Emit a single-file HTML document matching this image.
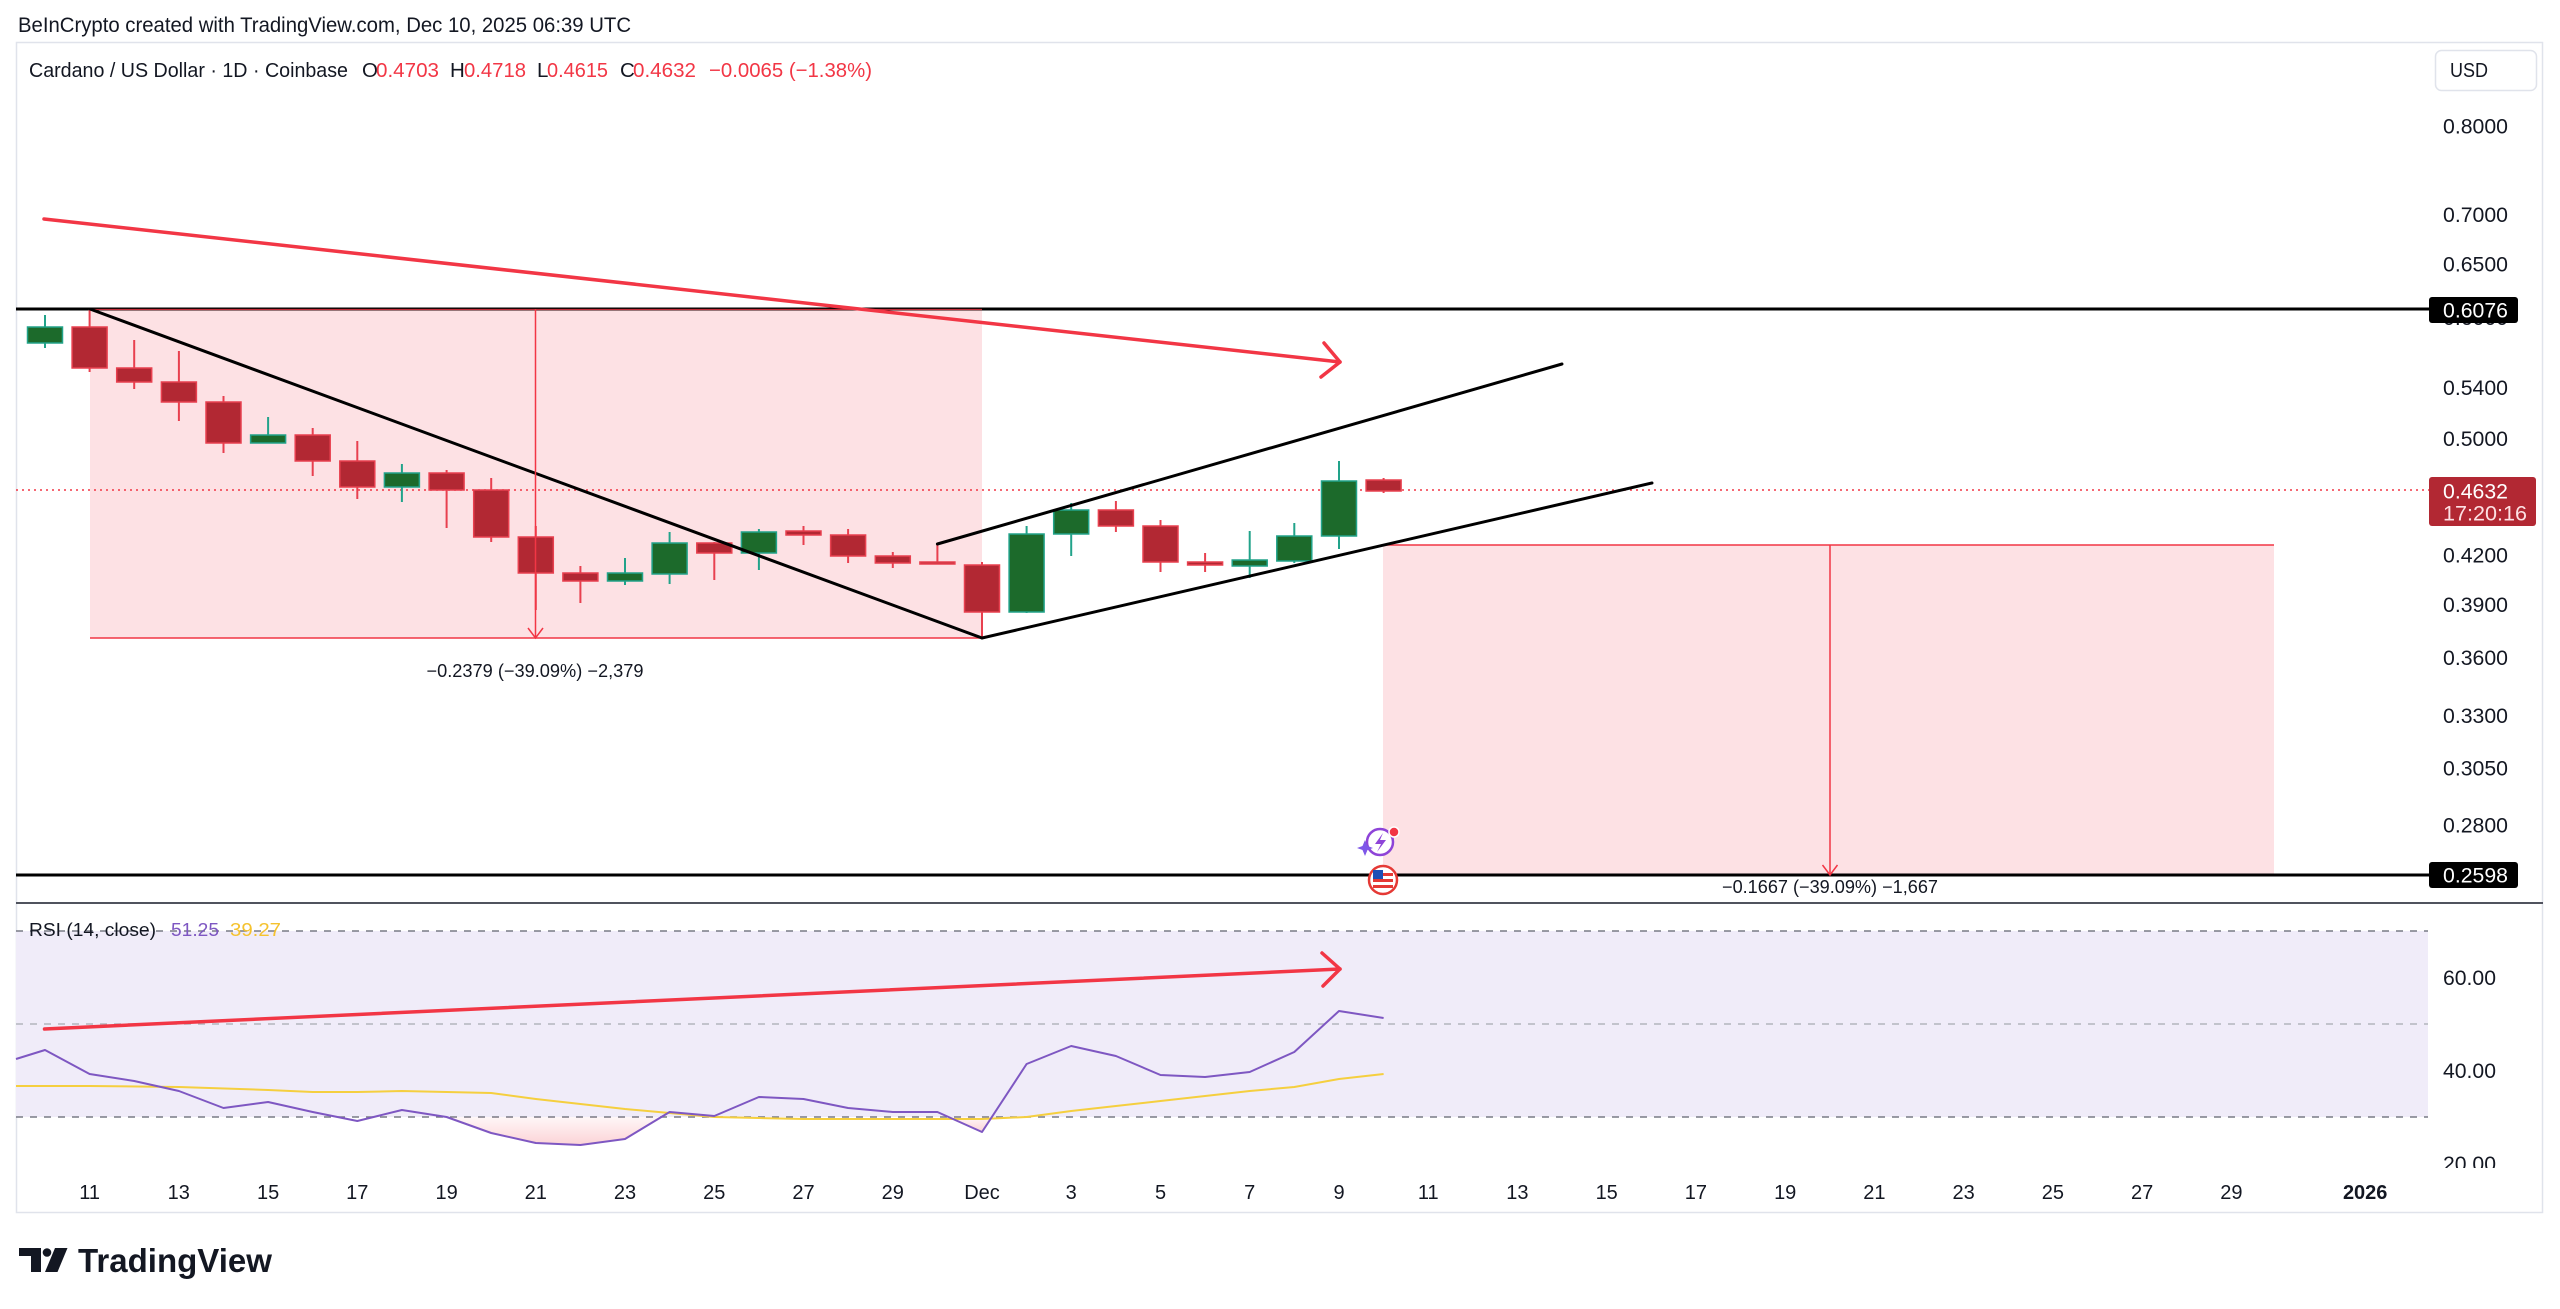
<!DOCTYPE html>
<html>
<head>
<meta charset="utf-8">
<style>
html,body{margin:0;padding:0;background:#ffffff;}
svg{display:block;}
text{font-family:"Liberation Sans", Arial, sans-serif;}
</style>
</head>
<body>
<svg xmlns="http://www.w3.org/2000/svg" width="2560" height="1309" viewBox="0 0 2560 1309">
<defs>
  <clipPath id="rsiclip"><rect x="0" y="905" width="2560" height="263"/></clipPath>
  <linearGradient id="pinkg" x1="0" y1="0" x2="0" y2="1">
    <stop offset="0" stop-color="#f23645" stop-opacity="0.04"/>
    <stop offset="1" stop-color="#f23645" stop-opacity="0.22"/>
  </linearGradient>
</defs>
<rect x="0" y="0" width="2560" height="1309" fill="#ffffff"/>

<!-- top caption -->
<text x="18" y="32" font-size="21" fill="#131722" textLength="613" lengthAdjust="spacingAndGlyphs">BeInCrypto created with TradingView.com, Dec 10, 2025 06:39 UTC</text>

<!-- panel border -->
<rect x="16.5" y="42.5" width="2526" height="1170" fill="none" stroke="#e0e3eb" stroke-width="1.5"/>

<!-- header -->
<g font-size="20.5">
  <text x="29" y="77" fill="#131722" textLength="319" lengthAdjust="spacingAndGlyphs">Cardano / US Dollar · 1D · Coinbase</text>
  <text x="362" y="77" fill="#131722">O</text>
  <text x="376" y="77" fill="#f23645" textLength="63" lengthAdjust="spacingAndGlyphs">0.4703</text>
  <text x="450" y="77" fill="#131722">H</text>
  <text x="464" y="77" fill="#f23645" textLength="62" lengthAdjust="spacingAndGlyphs">0.4718</text>
  <text x="537" y="77" fill="#131722">L</text>
  <text x="547" y="77" fill="#f23645" textLength="61" lengthAdjust="spacingAndGlyphs">0.4615</text>
  <text x="620" y="77" fill="#131722">C</text>
  <text x="633" y="77" fill="#f23645" textLength="63" lengthAdjust="spacingAndGlyphs">0.4632</text>
  <text x="709" y="77" fill="#f23645" textLength="163" lengthAdjust="spacingAndGlyphs">&#8722;0.0065 (&#8722;1.38%)</text>
</g>

<!-- USD box -->
<rect x="2435.5" y="50.5" width="101" height="40" rx="6" fill="#ffffff" stroke="#e0e3eb" stroke-width="1.5"/>
<text x="2450" y="77" font-size="20" fill="#131722" textLength="38" lengthAdjust="spacingAndGlyphs">USD</text>

<!-- pink ranges -->
<rect x="90" y="309" width="892" height="329" fill="#fde1e4"/>
<line x1="90" y1="309" x2="982" y2="309" stroke="#f23645" stroke-width="1.5"/>
<line x1="90" y1="638" x2="982" y2="638" stroke="#f23645" stroke-width="1.5"/>
<rect x="1383" y="545" width="891" height="330" fill="#fde1e4"/>
<line x1="1383" y1="545" x2="2274" y2="545" stroke="#f23645" stroke-width="1.5"/>

<!-- dotted current price line -->
<line x1="16" y1="490" x2="2429" y2="490" stroke="#f23645" stroke-width="1.5" stroke-dasharray="2 4"/>

<!-- horizontal black levels -->
<line x1="16" y1="309" x2="2429" y2="309" stroke="#000000" stroke-width="3"/>
<line x1="90" y1="309.5" x2="982" y2="309.5" stroke="#f23645" stroke-width="1.2" opacity="0.8"/>
<line x1="16" y1="875" x2="2429" y2="875" stroke="#000000" stroke-width="3"/>

<!-- candles: wicks -->
<g stroke-width="2">
  <g stroke="#22a38a">
    <line x1="45" y1="315" x2="45" y2="348"/>
    <line x1="268.1" y1="417" x2="268.1" y2="443"/>
    <line x1="401.9" y1="464" x2="401.9" y2="502"/>
    <line x1="625" y1="558" x2="625" y2="585"/>
    <line x1="669.6" y1="532" x2="669.6" y2="584"/>
    <line x1="758.9" y1="529" x2="758.9" y2="570"/>
    <line x1="1026.6" y1="526" x2="1026.6" y2="613"/>
    <line x1="1071.2" y1="503" x2="1071.2" y2="556"/>
    <line x1="1249.7" y1="531" x2="1249.7" y2="578"/>
    <line x1="1294.3" y1="523" x2="1294.3" y2="563"/>
    <line x1="1339" y1="461" x2="1339" y2="549"/>
  </g>
  <g stroke="#e8404f">
    <line x1="89.6" y1="309" x2="89.6" y2="372"/>
    <line x1="134.2" y1="340" x2="134.2" y2="389"/>
    <line x1="178.9" y1="351" x2="178.9" y2="421"/>
    <line x1="223.5" y1="396" x2="223.5" y2="453"/>
    <line x1="312.7" y1="428" x2="312.7" y2="476"/>
    <line x1="357.3" y1="441" x2="357.3" y2="499"/>
    <line x1="446.6" y1="470" x2="446.6" y2="528"/>
    <line x1="491.2" y1="478" x2="491.2" y2="542"/>
    <line x1="535.8" y1="526" x2="535.8" y2="610"/>
    <line x1="580.4" y1="566" x2="580.4" y2="603"/>
    <line x1="714.3" y1="542" x2="714.3" y2="580"/>
    <line x1="803.5" y1="526" x2="803.5" y2="545"/>
    <line x1="848.1" y1="529" x2="848.1" y2="563"/>
    <line x1="892.8" y1="552" x2="892.8" y2="568"/>
    <line x1="937.4" y1="544" x2="937.4" y2="563"/>
    <line x1="982" y1="562" x2="982" y2="638"/>
    <line x1="1115.9" y1="501" x2="1115.9" y2="532"/>
    <line x1="1160.5" y1="520" x2="1160.5" y2="572"/>
    <line x1="1205.1" y1="553" x2="1205.1" y2="572"/>
    <line x1="1383.6" y1="478" x2="1383.6" y2="493"/>
  </g>
</g>
<!-- candles: bodies -->
<g stroke-width="1.5">
  <g fill="#1c6a2b" stroke="#22a38a">
    <rect x="27.5" y="327" width="35" height="16"/>
    <rect x="250.6" y="435" width="35" height="8"/>
    <rect x="384.4" y="473" width="35" height="14"/>
    <rect x="607.5" y="573" width="35" height="8"/>
    <rect x="652.1" y="543" width="35" height="31"/>
    <rect x="741.4" y="532" width="35" height="21"/>
    <rect x="1009.1" y="534" width="35" height="78"/>
    <rect x="1053.7" y="510" width="35" height="24"/>
    <rect x="1232.2" y="560" width="35" height="6"/>
    <rect x="1276.8" y="536" width="35" height="25"/>
    <rect x="1321.5" y="481" width="35" height="55"/>
  </g>
  <g fill="#b22833" stroke="#e8404f">
    <rect x="72.1" y="327" width="35" height="41"/>
    <rect x="116.7" y="368" width="35" height="14"/>
    <rect x="161.4" y="382" width="35" height="20"/>
    <rect x="206" y="402" width="35" height="41"/>
    <rect x="295.2" y="435" width="35" height="26"/>
    <rect x="339.8" y="461" width="35" height="26"/>
    <rect x="429.1" y="473" width="35" height="17"/>
    <rect x="473.7" y="490" width="35" height="47"/>
    <rect x="518.3" y="537" width="35" height="36"/>
    <rect x="562.9" y="573" width="35" height="8"/>
    <rect x="696.8" y="543" width="35" height="10"/>
    <rect x="786" y="531" width="35" height="4"/>
    <rect x="830.6" y="535" width="35" height="21"/>
    <rect x="875.3" y="556" width="35" height="7"/>
    <rect x="919.9" y="562" width="35" height="2"/>
    <rect x="964.5" y="565" width="35" height="47"/>
    <rect x="1098.4" y="510" width="35" height="16"/>
    <rect x="1143" y="526" width="35" height="36"/>
    <rect x="1187.6" y="562" width="35" height="3"/>
    <rect x="1366.1" y="480" width="35" height="11"/>
  </g>
</g>

<!-- black trend lines -->
<g stroke="#000000" stroke-width="3" stroke-linecap="round" fill="none">
  <line x1="90" y1="309" x2="982" y2="638"/>
  <line x1="937.4" y1="544" x2="1562" y2="364"/>
  <line x1="982" y1="638" x2="1652" y2="483"/>
</g>

<!-- range arrows -->
<g stroke="#f23645" stroke-width="1.5" fill="none">
  <line x1="535.5" y1="309" x2="535.5" y2="638"/>
  <polyline points="528,628 535.5,638 543,628"/>
  <line x1="1830" y1="545" x2="1830" y2="875"/>
  <polyline points="1822.5,865 1830,875 1837.5,865"/>
</g>
<text x="535" y="677" font-size="18" fill="#131722" text-anchor="middle" textLength="217" lengthAdjust="spacingAndGlyphs">&#8722;0.2379 (&#8722;39.09%) &#8722;2,379</text>
<text x="1830" y="893" font-size="18" fill="#131722" text-anchor="middle" textLength="216" lengthAdjust="spacingAndGlyphs">&#8722;0.1667 (&#8722;39.09%) &#8722;1,667</text>

<!-- red price trend arrow -->
<g stroke="#f23645" stroke-width="3.5" stroke-linecap="round" stroke-linejoin="round" fill="none">
  <line x1="44" y1="219" x2="1340" y2="362"/>
  <polyline points="1324,343 1340,362 1321,377"/>
</g>

<!-- icons -->
<g>
  <circle cx="1380" cy="842" r="13" fill="#ffffff" stroke="#8e44d8" stroke-width="2.5"/>
  <path d="M1383 833 L1375 844 L1381 844 L1377 852 L1386 840 L1380 840 Z" fill="#8e44d8"/>
  <path d="M1365 840 L1367.5 846 L1373 848 L1367.5 850 L1365 856 L1362.5 850 L1357 848 L1362.5 846 Z" fill="#7e57e8"/>
  <circle cx="1394" cy="832" r="5" fill="#f23645" stroke="#ffffff" stroke-width="1.5"/>
  <circle cx="1383" cy="880" r="14" fill="#ffffff" stroke="#e53935" stroke-width="2.5"/>
  <rect x="1373" y="873" width="20" height="3" fill="#e53935"/>
  <rect x="1373" y="879" width="20" height="3" fill="#e53935"/>
  <rect x="1373" y="885" width="20" height="3" fill="#e53935"/>
  <rect x="1373" y="870" width="10" height="9" fill="#1e4fb5"/>
</g>

<!-- price axis labels -->
<g font-size="21" fill="#131722">
  <text x="2443" y="133.5" textLength="65" lengthAdjust="spacingAndGlyphs">0.8000</text>
  <text x="2443" y="222" textLength="65" lengthAdjust="spacingAndGlyphs">0.7000</text>
  <text x="2443" y="271.5" textLength="65" lengthAdjust="spacingAndGlyphs">0.6500</text>
  <text x="2443" y="325" textLength="65" lengthAdjust="spacingAndGlyphs">0.6000</text>
  <text x="2443" y="395" textLength="65" lengthAdjust="spacingAndGlyphs">0.5400</text>
  <text x="2443" y="446" textLength="65" lengthAdjust="spacingAndGlyphs">0.5000</text>
  <text x="2443" y="562.5" textLength="65" lengthAdjust="spacingAndGlyphs">0.4200</text>
  <text x="2443" y="612" textLength="65" lengthAdjust="spacingAndGlyphs">0.3900</text>
  <text x="2443" y="665" textLength="65" lengthAdjust="spacingAndGlyphs">0.3600</text>
  <text x="2443" y="723" textLength="65" lengthAdjust="spacingAndGlyphs">0.3300</text>
  <text x="2443" y="775.5" textLength="65" lengthAdjust="spacingAndGlyphs">0.3050</text>
  <text x="2443" y="832.5" textLength="65" lengthAdjust="spacingAndGlyphs">0.2800</text>
</g>
<!-- price tags -->
<rect x="2429" y="297" width="89" height="26" rx="3" fill="#000000"/>
<text x="2443" y="317.5" font-size="21" fill="#ffffff" textLength="65" lengthAdjust="spacingAndGlyphs">0.6076</text>
<rect x="2429" y="477" width="107" height="49" rx="3" fill="#b22833"/>
<text x="2443" y="498.5" font-size="21" fill="#ffffff" textLength="65" lengthAdjust="spacingAndGlyphs">0.4632</text>
<text x="2443" y="520.5" font-size="21" fill="#fde1e4" textLength="84" lengthAdjust="spacingAndGlyphs">17:20:16</text>
<rect x="2429" y="862" width="89" height="26" rx="3" fill="#000000"/>
<text x="2443" y="882.5" font-size="21" fill="#ffffff" textLength="65" lengthAdjust="spacingAndGlyphs">0.2598</text>

<!-- pane separator -->
<line x1="16" y1="903" x2="2543" y2="903" stroke="#50535e" stroke-width="2"/>

<!-- RSI pane -->
<rect x="16" y="931" width="2412" height="186" fill="#f0ecf9"/>
<g stroke-width="1.5" stroke-dasharray="7 7" fill="none">
  <line x1="16" y1="931" x2="2428" y2="931" stroke="#787b86"/>
  <line x1="16" y1="1024" x2="2428" y2="1024" stroke="#b2b5be"/>
  <line x1="16" y1="1117" x2="2428" y2="1117" stroke="#787b86"/>
</g>
<polygon points="446.6,1117 491.2,1133 535.8,1143 580.4,1145 625,1139 664,1117" fill="url(#pinkg)"/>
<polygon points="948.5,1117 982,1132 991.8,1117" fill="url(#pinkg)"/>

<polyline fill="none" stroke="#f5cf3f" stroke-width="2" points="16,1086 89.6,1086 178.9,1087 268.1,1090 312.7,1092 357.3,1092 401.9,1091 446.6,1092 491.2,1093 535.8,1099 580.4,1104 625,1109 669.6,1113 714.3,1117 758.9,1118 803.5,1119 892.8,1119 982,1119 1026.6,1117 1071.2,1111 1115.9,1106 1160.5,1101 1205.1,1096 1249.7,1091 1294.3,1087 1339,1079 1383.6,1074"/>
<polyline fill="none" stroke="#7e57c2" stroke-width="2" stroke-linejoin="round" points="16,1059 45,1050 89.6,1074 134.2,1081 178.9,1091 223.5,1108 268.1,1102 312.7,1112 357.3,1121 401.9,1110 446.6,1117 491.2,1133 535.8,1143 580.4,1145 625,1139 669.6,1112 714.3,1116 758.9,1097 803.5,1099 848.1,1108 892.8,1112 937.4,1112 982,1132 1026.6,1064 1071.2,1046 1115.9,1056 1160.5,1075 1205.1,1077 1249.7,1072 1294.3,1052 1339,1011 1383.6,1018"/>

<!-- RSI red trend arrow -->
<g stroke="#f23645" stroke-width="3.5" stroke-linecap="round" stroke-linejoin="round" fill="none">
  <line x1="44.5" y1="1029" x2="1340" y2="969"/>
  <polyline points="1322,953 1340,969 1323,986"/>
</g>

<!-- RSI legend -->
<text x="29" y="936" font-size="18" fill="#131722" textLength="127" lengthAdjust="spacingAndGlyphs">RSI (14, close)</text>
<text x="171" y="936" font-size="18.5" fill="#7e57c2" textLength="48" lengthAdjust="spacingAndGlyphs">51.25</text>
<text x="230" y="936" font-size="18.5" fill="#f5c22e" textLength="51" lengthAdjust="spacingAndGlyphs">39.27</text>

<!-- RSI axis -->
<g font-size="21" fill="#131722" clip-path="url(#rsiclip)">
  <text x="2443" y="985" textLength="53" lengthAdjust="spacingAndGlyphs">60.00</text>
  <text x="2443" y="1078" textLength="53" lengthAdjust="spacingAndGlyphs">40.00</text>
  <text x="2443" y="1171" textLength="53" lengthAdjust="spacingAndGlyphs">20.00</text>
</g>

<!-- date axis -->
<g font-size="20" fill="#131722" text-anchor="middle">
  <text x="89.6" y="1199">11</text>
  <text x="178.8" y="1199">13</text>
  <text x="268.1" y="1199">15</text>
  <text x="357.3" y="1199">17</text>
  <text x="446.6" y="1199">19</text>
  <text x="535.8" y="1199">21</text>
  <text x="625" y="1199">23</text>
  <text x="714.3" y="1199">25</text>
  <text x="803.5" y="1199">27</text>
  <text x="892.8" y="1199">29</text>
  <text x="982" y="1199">Dec</text>
  <text x="1071.2" y="1199">3</text>
  <text x="1160.5" y="1199">5</text>
  <text x="1249.7" y="1199">7</text>
  <text x="1339" y="1199">9</text>
  <text x="1428.2" y="1199">11</text>
  <text x="1517.4" y="1199">13</text>
  <text x="1606.7" y="1199">15</text>
  <text x="1695.9" y="1199">17</text>
  <text x="1785.2" y="1199">19</text>
  <text x="1874.4" y="1199">21</text>
  <text x="1963.6" y="1199">23</text>
  <text x="2052.9" y="1199">25</text>
  <text x="2142.1" y="1199">27</text>
  <text x="2231.4" y="1199">29</text>
  <text x="2365.2" y="1199" font-weight="bold">2026</text>
</g>

<!-- TradingView logo -->
<g fill="#131722">
  <rect x="19" y="1248" width="22" height="8"/>
  <rect x="31" y="1248" width="10" height="24"/>
  <circle cx="47" cy="1252.5" r="4.3"/>
  <polygon points="55,1248 67.5,1248 57.5,1272 45,1272"/>
</g>
<text x="78" y="1272" font-size="33" font-weight="bold" fill="#131722" textLength="194" lengthAdjust="spacingAndGlyphs">TradingView</text>
</svg>
</body>
</html>
